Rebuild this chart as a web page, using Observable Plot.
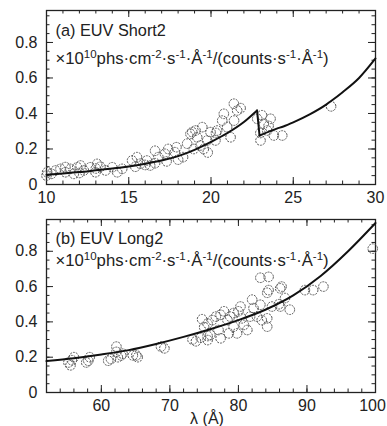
<!DOCTYPE html>
<html><head><meta charset="utf-8">
<script src="https://cdn.jsdelivr.net/npm/d3@7"></script>
<script src="https://cdn.jsdelivr.net/npm/@observablehq/plot@0.6"></script>
<style>
html,body{margin:0;padding:0;background:#fff;}
#chart{position:relative;width:387px;height:426px;overflow:hidden;font-family:"Liberation Sans",Arial,sans-serif;}
#chart svg{position:absolute;left:0;overflow:visible;}
</style></head><body><div id="chart"></div>
<script>
// ---------- Panel (a) EUV Short2 ----------
const shortTitle = "(a) EUV Short2";
const shortLambda = [10.0,10.04,10.3,10.55,10.85,11.15,11.15,11.46,11.66,11.87,12.0,12.07,12.27,12.67,12.98,13.0,13.08,13.28,13.59,14.0,14.3,14.6,
  15.2,15.4,15.5,15.7,16.0,16.1,16.3,16.6,16.6,16.8,17.2,17.3,17.4,17.8,17.9,18.0,18.3,18.55,18.75,18.86,18.95,19.06,19.16,19.36,19.47,19.56,19.77,19.8,19.97,
  20.27,20.3,20.37,20.68,20.78,20.98,21.19,21.39,21.4,21.59,21.8,
  22.81,23.0,23.01,23.1,23.21,23.42,23.5,23.62,23.82,24.33,27.3];
const shortVal = [0.05,0.069,0.06,0.079,0.088,0.069,0.098,0.088,0.06,0.097,0.065,0.107,0.079,0.097,0.069,0.09,0.116,0.10,0.079,0.097,0.069,0.088,
  0.135,0.10,0.154,0.117,0.11,0.135,0.107,0.19,0.12,0.154,0.173,0.13,0.20,0.182,0.21,0.14,0.154,0.23,0.285,0.295,0.20,0.304,0.266,0.22,0.323,0.20,0.248,0.18,0.295,
  0.248,0.29,0.304,0.36,0.398,0.323,0.266,0.455,0.36,0.417,0.43,
  0.37,0.29,0.248,0.39,0.342,0.304,0.33,0.37,0.276,0.276,0.44];
// fitted curve: two branches either side of the absorption edge
const shortCurveLambda = [10,11,12,13,14,15,16,17,18,19,20,21,22,22.8, 22.95,24,24.4,25,26,27,27.3,28,29,30];
const shortCurveVal =    [0.055,0.062,0.07,0.08,0.09,0.102,0.117,0.135,0.16,0.195,0.24,0.29,0.352,0.417, 0.276,0.315,0.327,0.35,0.395,0.45,0.47,0.52,0.60,0.71];
const shortCurveBranch = [0,0,0,0,0,0,0,0,0,0,0,0,0,0, 1,1,1,1,1,1,1,1,1,1];
const shortXMajor = [10,15,20,25,30];
const shortXMinor = d3.range(10,31,1);

// ---------- Panel (b) EUV Long2 ----------
const longTitle = "(b) EUV Long2";
const longLambda = [55.2,55.5,55.7,56.0,57.8,58.1,58.3,61.0,61.4,62.2,62.2,62.4,62.9,63.1,64.6,65.1,65.3,68.7,69.2,73.3,73.8,74.5,74.7,
  75.0,75.5,75.5,75.5,75.9,76.2,76.7,77.1,77.4,77.4,77.9,78.4,78.6,78.8,79.3,79.3,79.8,80.0,80.3,80.5,80.8,81.3,81.7,82.0,82.2,82.7,
  83.2,83.2,83.4,84.2,84.2,84.2,84.4,84.4,84.9,85.9,86.1,86.1,86.3,86.8,87.5,89.7,90.9,92.4,99.6];
const longVal = [0.17,0.154,0.183,0.20,0.17,0.18,0.20,0.18,0.19,0.26,0.23,0.20,0.21,0.22,0.21,0.21,0.20,0.26,0.25,0.30,0.29,0.31,0.415,
  0.37,0.39,0.32,0.297,0.326,0.41,0.43,0.354,0.44,0.307,0.46,0.41,0.335,0.43,0.45,0.373,0.335,0.46,0.487,0.42,0.383,0.354,0.43,0.526,0.478,0.43,
  0.65,0.497,0.41,0.42,0.373,0.565,0.655,0.58,0.487,0.50,0.59,0.487,0.60,0.535,0.469,0.58,0.58,0.60,0.815];
const longCurveLambda = [52,56,60,64,68,72,76,80,84,88,92,96,100];
const longCurveVal = [0.178,0.194,0.215,0.24,0.275,0.315,0.36,0.41,0.47,0.55,0.66,0.80,0.96];
const longCurveBranch = [0,0,0,0,0,0,0,0,0,0,0,0,0];
const longXMajor = [60,70,80,90,100];
const longXMinor = d3.range(52,101,2);

// ---------- shared ----------
const yMajor = [0,0.2,0.4,0.6,0.8];
const yMinor = d3.range(0,0.96,0.05);
const unitParts = [["×10",0],["10",1],["phs·cm",0],["-2",1],["·s",0],["-1",1],["·Å",0],["-1",1],["/(counts·s",0],["-1",1],["·Å",0],["-1",1],[")",0]];
const xLabel = "λ (Å)";
const UNIT_MARK = "__UNITS__";

const W = 387, ML = 46, MR = 12;
const ink = "#222";

function panel(o) {
  const fw = W - ML - MR;
  const fh = o.height - o.marginTop - o.marginBottom;
  const pts = o.lam.map((x,i)=>({x, y:o.val[i]}));
  const crv = o.cLam.map((x,i)=>({x, y:o.cVal[i], b:o.cBranch[i]}));
  // connectors between the end of one branch and the start of the next (the edge jump)
  const jumps = [];
  for (let i = 1; i < crv.length; i++) if (crv[i].b !== crv[i-1].b) jumps.push({x1:crv[i-1].x, y1:crv[i-1].y, x2:crv[i].x, y2:crv[i].y});
  const big = 7, small = 3.5;
  const last = o.xMajor[o.xMajor.length-1];
  const marks = [
    Plot.tickY(yMajor, {insetRight: fw-big, stroke: ink}),
    Plot.tickY(yMajor, {insetLeft: fw-big, stroke: ink}),
    Plot.tickY(yMinor, {insetRight: fw-small, stroke: ink}),
    Plot.tickY(yMinor, {insetLeft: fw-small, stroke: ink}),
    Plot.tickX(o.xMajor, {insetTop: fh-big, stroke: ink}),
    Plot.tickX(o.xMajor, {insetBottom: fh-big, stroke: ink}),
    Plot.tickX(o.xMinor, {insetTop: fh-small, stroke: ink}),
    Plot.tickX(o.xMinor, {insetBottom: fh-small, stroke: ink}),
    Plot.frame({stroke: ink, strokeWidth: 1.3}),
    Plot.dot(pts, {x:"x", y:"y", r:4.8, stroke:"#555", strokeWidth:1, strokeDasharray:"2,1", fill:"none"}),
    Plot.line(crv, {x:"x", y:"y", z:"b", stroke:"#111", strokeWidth:2, curve:"monotone-x"}),
    Plot.link(jumps, {x1:"x1", y1:"y1", x2:"x2", y2:"y2", stroke:"#111", strokeWidth:2, strokeLinecap:"round"}),
    Plot.axisY(yMajor, {tickSize:0, tickPadding:9, fontSize:16, label:null, tickFormat: d => d === 0 ? "0" : d.toFixed(1)}),
    Plot.axisX(o.xMajor.filter(d => d !== last), {tickSize:0, tickPadding:7, fontSize:16, label:null, tickFormat: d => String(d)}),
    Plot.axisX([last], {tickSize:0, tickPadding:7, fontSize:16, label:null, dx: o.lastDx || 0, tickFormat: d => String(d)}),
    Plot.text([o.title], {text:d=>d, frameAnchor:"top-left", textAnchor:"start", lineAnchor:"bottom", dx:9, dy:o.l1, fontSize:16.3, fill:ink}),
    Plot.text([UNIT_MARK], {text:d=>d, frameAnchor:"top-left", textAnchor:"start", lineAnchor:"bottom", dx:9, dy:o.l2, fontSize:16.7, fill:ink})
  ];
  if (o.xLabel) marks.push(Plot.text([o.xLabel], {text:d=>d, frameAnchor:"bottom", textAnchor:"middle", lineAnchor:"bottom", dx:-4, dy:31, fontSize:16, fill:ink}));
  const svg = Plot.plot({
    width: W, height: o.height,
    marginLeft: ML, marginRight: MR, marginTop: o.marginTop, marginBottom: o.marginBottom,
    x: {domain: o.xDomain, axis: null},
    y: {domain: [0, 0.98], axis: null},
    style: {fontFamily: '"Liberation Sans", Arial, sans-serif', fontSize: "16px", color: ink, background: "transparent", overflow: "visible"},
    marks
  });
  d3.select(svg).selectAll("text").filter(function(){ return this.textContent === UNIT_MARK; }).each(function(){
    const t = d3.select(this);
    t.selectAll("*").remove();
    t.text(null);
    let up = false;
    for (const [s, sup] of unitParts) {
      const sp = t.append("tspan").text(s);
      if (sup) { sp.attr("font-size", "11.5px").attr("dy", up ? 0 : -6); up = true; }
      else { sp.attr("dy", up ? 6 : 0); up = false; }
    }
  });
  svg.style.top = o.top + "px";
  return svg;
}

const root = document.getElementById("chart");
root.appendChild(panel({lam: shortLambda, val: shortVal, cLam: shortCurveLambda, cVal: shortCurveVal, cBranch: shortCurveBranch,
  xDomain: [10,30], xMajor: shortXMajor, xMinor: shortXMinor, title: shortTitle,
  top: 0, height: 210, marginTop: 10, marginBottom: 26, l1: 25, l2: 53}));
root.appendChild(panel({lam: longLambda, val: longVal, cLam: longCurveLambda, cVal: longCurveVal, cBranch: longCurveBranch,
  xDomain: [52,100], xMajor: longXMajor, xMinor: longXMinor, title: longTitle, xLabel, lastDx: -3,
  top: 210, height: 216, marginTop: 9, marginBottom: 34, l1: 24, l2: 46}));
</script></body></html>
